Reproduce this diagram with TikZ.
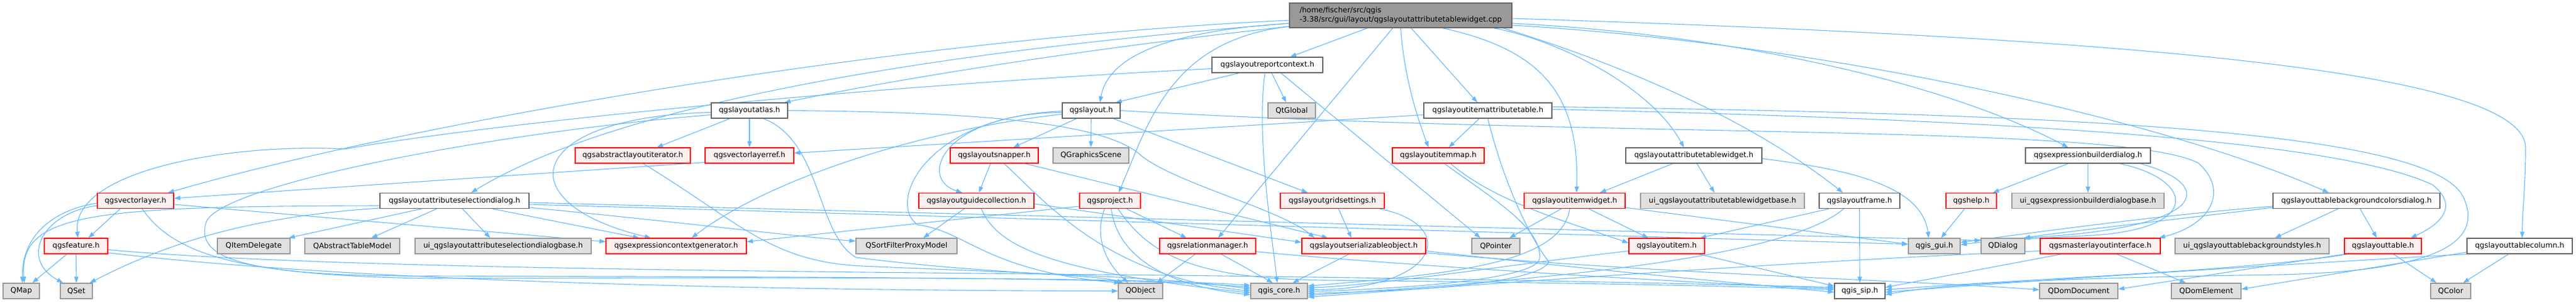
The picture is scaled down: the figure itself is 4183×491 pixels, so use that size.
\documentclass[tikz,border=0pt]{standalone}
\usepackage{fontspec}
\setmainfont{DejaVu Sans}
\usetikzlibrary{arrows.meta}
\definecolor{edgec}{HTML}{63B8FF}
\definecolor{redb}{HTML}{FF0000}
\definecolor{redf}{HTML}{FFF0F0}
\definecolor{grayf}{HTML}{E0E0E0}
\definecolor{grayb}{HTML}{999999}
\definecolor{darkb}{HTML}{666666}
\definecolor{topf}{HTML}{999999}
\newcommand{\ndfnt}{\fontsize{12pt}{15pt}\selectfont}
\pgfdeclarelayer{back}
\pgfdeclarelayer{bg}
\pgfsetlayers{back,bg,main}
\begin{document}
\begin{tikzpicture}[x=1pt,y=-1pt,
 box/.style={rectangle, inner sep=0pt, minimum height=25pt, line width=1.3pt, font=\ndfnt},
 wnode/.style={box, draw=darkb, fill=white},
 rnode/.style={box, draw=redb, fill=redf},
 gnode/.style={box, draw=grayb, fill=grayf},
 tnode/.style={box, draw=darkb, fill=topf},
 mw/.style={minimum width=#1},
 conn/.style={draw=edgec, line width=1.1pt, -{Triangle[length=10pt,width=7pt]}}]
\useasboundingbox (0,0) rectangle (4183,491);
\begin{pgfonlayer}{back}
\fill[white] (0,0) rectangle (4183,491);
\end{pgfonlayer}
% ---------- nodes ----------
\node[tnode, mw=361pt, minimum height=40pt, align=left] (top) at (2274.5,25) {/home/fischer/src/qgis\\-3.38/src/gui/layout/qgslayoutattributetablewidget.cpp};
\node[wnode, mw=180pt] (rc) at (2058,105.5) {qgslayoutreportcontext.h};
\node[wnode, mw=124pt] (atlas) at (1217,179.5) {qgslayoutatlas.h};
\node[wnode, mw=94pt] (layout) at (1772,179.5) {qgslayout.h};
\node[gnode, mw=77pt] (qtglobal) at (2097.5,179.5) {QtGlobal};
\node[wnode, mw=208pt] (iat) at (2416,179.5) {qgslayoutitemattributetable.h};
\node[rnode, mw=187pt] (ali) at (1027.5,252.5) {qgsabstractlayoutiterator.h};
\node[rnode, mw=144pt] (vlr) at (1217,252.5) {qgsvectorlayerref.h};
\node[rnode, mw=143pt] (snap) at (1614.5,252.5) {qgslayoutsnapper.h};
\node[gnode, mw=123pt] (gscene) at (1771.5,252.5) {QGraphicsScene};
\node[rnode, mw=149pt] (imap) at (2335.5,252.5) {qgslayoutitemmap.h};
\node[wnode, mw=221pt] (atw) at (2750.5,252.5) {qgslayoutattributetablewidget.h};
\node[wnode, mw=203pt] (ebd) at (3390.5,252.5) {qgsexpressionbuilderdialog.h};
\node[rnode, mw=124pt] (vl) at (220,326) {qgsvectorlayer.h};
\node[wnode, mw=242pt] (asd) at (738,326) {qgslayoutattributeselectiondialog.h};
\node[rnode, mw=187pt] (guide) at (1585.5,326) {qgslayoutguidecollection.h};
\node[rnode, mw=99pt] (proj) at (1802.5,326) {qgsproject.h};
\node[rnode, mw=169pt] (grid) at (2163.5,326) {qgslayoutgridsettings.h};
\node[rnode, mw=164pt] (iw) at (2557,326) {qgslayoutitemwidget.h};
\node[gnode, mw=266pt] (uiatw) at (2797,326) {ui\_qgslayoutattributetablewidgetbase.h};
\node[wnode, mw=131pt] (frame) at (3019.5,326) {qgslayoutframe.h};
\node[rnode, mw=82pt] (help) at (3201,326) {qgshelp.h};
\node[gnode, mw=247pt] (uiebd) at (3390.5,326) {ui\_qgsexpressionbuilderdialogbase.h};
\node[wnode, mw=271pt] (tbcd) at (3826.5,326) {qgslayouttablebackgroundcolorsdialog.h};
\node[rnode, mw=103pt] (feat) at (123.5,399.5) {qgsfeature.h};
\node[gnode, mw=118pt] (qid) at (412,399.5) {QItemDelegate};
\node[gnode, mw=154pt] (qatm) at (572,399.5) {QAbstractTableModel};
\node[gnode, mw=286pt] (uiasd) at (817,399.5) {ui\_qgslayoutattributeselectiondialogbase.h};
\node[rnode, mw=228pt] (ecg) at (1098,399.5) {qgsexpressioncontextgenerator.h};
\node[gnode, mw=164pt] (qsfpm) at (1472,399.5) {QSortFilterProxyModel};
\node[rnode, mw=156pt] (relm) at (1961,399.5) {qgsrelationmanager.h};
\node[rnode, mw=201pt] (ser) at (2214.5,399.5) {qgslayoutserializableobject.h};
\node[gnode, mw=78pt] (qptr) at (2429,399.5) {QPointer};
\node[rnode, mw=123pt] (item) at (2706.5,399.5) {qgslayoutitem.h};
\node[gnode, mw=84pt] (gui) at (3141,399.5) {qgis\_gui.h};
\node[gnode, mw=71pt] (qdlg) at (3252.5,399.5) {QDialog};
\node[rnode, mw=195pt] (mli) at (3410.5,399.5) {qgsmasterlayoutinterface.h};
\node[gnode, mw=250pt] (uitbs) at (3657,399.5) {ui\_qgslayouttablebackgroundstyles.h};
\node[rnode, mw=125pt] (table) at (3869.5,399.5) {qgslayouttable.h};
\node[wnode, mw=171pt] (tcol) at (4091.5,399.5) {qgslayouttablecolumn.h};
\node[gnode, mw=59pt] (qmap) at (34.5,472.5) {QMap};
\node[gnode, mw=52pt] (qset) at (124,472.5) {QSet};
\node[gnode, mw=72pt] (qobj) at (1852,472.5) {QObject};
\node[gnode, mw=92pt] (core) at (2077,472.5) {qgis\_core.h};
\node[wnode, mw=82pt] (sip) at (3020,472.5) {qgis\_sip.h};
\node[gnode, mw=127pt] (qdd) at (3375.5,472.5) {QDomDocument};
\node[gnode, mw=113pt] (qde) at (3582.5,472.5) {QDomElement};
\node[gnode, mw=65pt] (qcolor) at (3979.5,472.5) {QColor};
% ---------- edges ----------
\begin{pgfonlayer}{bg}
% top
\draw[conn] ([xshift=-54pt]top.south) -- ([xshift=37pt]rc.north);
\draw[conn] ([yshift=-13pt]top.west) .. controls (1900,50) and (1800,90) .. ([xshift=14pt]layout.north);
\draw[conn] ([yshift=-18pt]top.west) .. controls (1900,65) and (1865,200) .. ([xshift=14pt]proj.north);
\draw[conn] ([xshift=-13pt]top.south) -- ([xshift=17pt]relm.north);
\draw[conn] (top.south) .. controls (2280,130) and (2305,200) .. ([xshift=-16pt]imap.north);
\draw[conn] ([xshift=17pt]top.south) -- ([xshift=-17pt]iat.north);
\draw[conn] ([xshift=68pt]top.south) .. controls (2500,80) and (2565,150) .. ([xshift=3pt]iw.north);
\draw[conn] ([xshift=151pt]top.south) .. controls (2530,65) and (2680,140) .. ([xshift=-16pt]atw.north);
\draw[conn] ([xshift=-15pt]top.south east) .. controls (2650,110) and (2850,200) .. ([xshift=-27pt]frame.north);
\draw[conn] ([yshift=-13pt]top.east) .. controls (2800,55) and (3150,130) .. ([xshift=-32pt]ebd.north);
\draw[conn] ([yshift=-16pt]top.east) .. controls (2950,70) and (3500,190) .. ([xshift=-45pt]tbcd.north);
\draw[conn] ([yshift=-5pt]top.east) .. controls (3400,60) and (4101,110) .. (4101,240) .. controls (4101,300) and (4096,340) .. ([xshift=4pt]tcol.north);
\draw[conn] ([yshift=-18pt]top.west) .. controls (1800,75) and (1500,120) .. ([xshift=-6pt]atlas.north east);
\draw[conn] ([yshift=-8pt]top.west) .. controls (1500,60) and (700,190) .. ([xshift=-10pt]vl.north east);
\draw[conn] ([yshift=-13pt]top.west) .. controls (1500,85) and (1000,170) .. ([xshift=27pt]asd.north);
% rc
\draw[conn] ([xshift=-46pt]rc.south) -- ([xshift=-8pt]layout.north east);
\draw[conn] ([xshift=7pt]rc.south) -- ([xshift=-9pt]qtglobal.north);
\draw[conn] ([xshift=22pt]rc.south) -- ([xshift=-25pt]qptr.north);
\draw[conn] ([xshift=-4pt]rc.south) .. controls (2040,220) and (2065,380) .. ([xshift=-3pt]core.north);
\draw[conn] ([yshift=-6pt]rc.west) .. controls (1400,140) and (800,200) .. (560,242) .. controls (380,232) and (115,275) .. ([xshift=3pt]feat.north);
% atlas
\draw[conn] ([xshift=-32pt]atlas.south) -- ([xshift=39pt]ali.north);
\draw[conn] (atlas.south) -- (vlr.north);
\draw[conn] ([xshift=23pt]atlas.south) .. controls (1335,230) and (1325,380) .. (1390,418) .. controls (1600,445) and (1780,445) .. ([xshift=-28pt]qobj.north);
\draw[conn] (atlas.east) .. controls (1600,182) and (1790,200) .. (1850,250) .. controls (1900,295) and (2080,340) .. ([xshift=-80pt]ser.north);
\draw[conn] ([yshift=-3pt]atlas.west) .. controls (850,190) and (820,330) .. ([xshift=-41pt]ecg.north);
\draw[conn] ([yshift=-7pt]atlas.west) .. controls (800,215) and (360,300) .. (335,360) .. controls (320,410) and (360,450) .. (700,448) .. controls (1300,450) and (1850,450) .. ([yshift=6pt]core.west);
% ali, vlr
\draw[conn] ([xshift=17pt]ali.south) .. controls (1200,360) and (1250,425) .. (1400,432) .. controls (1700,445) and (1900,450) .. ([yshift=3pt]core.west);
\draw[conn] ([yshift=2pt]vlr.south west) -- ([yshift=4pt]vl.east);
% layout
\draw[conn] ([xshift=-24pt]layout.south) -- ([xshift=31pt]snap.north);
\draw[conn] (layout.south) -- (gscene.north);
\draw[conn] ([yshift=-3pt]layout.west) .. controls (1530,185) and (1490,290) .. ([xshift=-23pt]guide.north);
\draw[conn] ([yshift=-6pt]layout.west) .. controls (1500,210) and (1250,290) .. ([xshift=25pt]ecg.north);
\draw[conn] ([yshift=-1pt]layout.west) .. controls (1500,190) and (1440,330) .. (1490,365) .. controls (1570,375) and (1600,440) .. ([xshift=-33pt]qobj.north);
\draw[conn] ([xshift=36pt]layout.south) -- ([xshift=-40pt]grid.north);
\draw[conn] (layout.east) .. controls (2600,225) and (3450,200) .. (3570,265) .. controls (3620,310) and (3590,365) .. ([xshift=-3pt]mli.north east);
% snap
\draw[conn] ([xshift=-6pt]snap.south) -- ([xshift=4pt]guide.north);
\draw[conn] ([xshift=16pt]snap.south) .. controls (1700,330) and (1800,450) .. (core.west);
\draw[conn] ([xshift=50pt]snap.south) -- ([xshift=-58pt]ser.north);
% guide
\draw[conn] ([xshift=-20pt]guide.south) -- ([xshift=27pt]qsfpm.north);
\draw[conn] ([xshift=8pt]guide.south) .. controls (1620,400) and (1700,440) .. ([yshift=-3pt]core.west);
\draw[conn] ([yshift=-5pt]guide.east) -- ([yshift=6pt]ser.west);
% proj
\draw[conn] ([yshift=-9pt]proj.west) -- ([yshift=7pt]ecg.east);
\draw[conn] ([xshift=27pt]proj.south) -- ([xshift=-34pt]relm.north);
\draw[conn] ([xshift=-9pt]proj.south) .. controls (1775,390) and (1800,430) .. ([xshift=-20pt]qobj.north);
\draw[conn] ([xshift=2pt]proj.south) .. controls (1815,420) and (1900,465) .. ([yshift=-6pt]core.west);
\draw[conn] ([xshift=13pt]proj.south) .. controls (1870,420) and (1950,452) .. (2150,455) .. controls (2500,458) and (2850,465) .. ([yshift=2pt]sip.west);
% relm
\draw[conn] ([xshift=-20pt]relm.south) -- ([xshift=26pt]qobj.north);
\draw[conn] ([xshift=22pt]relm.south) -- ([xshift=-10pt]core.north);
\draw[conn] ([yshift=-9pt]relm.east) .. controls (2200,425) and (2700,458) .. ([yshift=4pt]sip.west);
% grid
\draw[conn] ([xshift=10pt]grid.south) -- ([xshift=-20pt]ser.north);
\draw[conn] ([xshift=77pt]grid.south) .. controls (2370,365) and (2340,470) .. ([yshift=2pt]core.east);
% ser
\draw[conn] ([xshift=-24pt]ser.south) -- ([xshift=22pt]core.north);
\draw[conn] ([yshift=-8pt]ser.east) .. controls (2600,440) and (2850,462) .. ([yshift=-2pt]sip.west);
\draw[conn] ([yshift=-11pt]ser.east) .. controls (2700,445) and (3100,455) .. ([yshift=2pt]qdd.west);
% item
\draw[conn] ([yshift=-8pt]item.west) .. controls (2450,430) and (2250,462) .. ([yshift=5pt]core.east);
\draw[conn] ([xshift=-10pt]item.south east) -- ([yshift=8pt]sip.west);
% imap
\draw[conn] ([xshift=10pt]imap.south) .. controls (2420,320) and (2505,370) .. (2500,420) .. controls (2495,452) and (2300,468) .. ([yshift=-1pt]core.east);
\draw[conn] ([xshift=20pt]imap.south) .. controls (2430,330) and (2560,365) .. ([yshift=5pt]item.west);
% iat
\draw[conn] ([xshift=-14pt]iat.south) -- ([xshift=17pt]imap.north);
\draw[conn] ([yshift=-7pt]iat.west) -- ([yshift=4pt]vlr.east);
\draw[conn] (iat.south) .. controls (2440,290) and (2480,380) .. (2515,425) .. controls (2500,460) and (2300,472) .. ([yshift=-4pt]core.east);
\draw[conn] ([yshift=2pt]iat.east) .. controls (3300,195) and (3800,230) .. (3950,300) .. controls (4000,340) and (3950,370) .. ([xshift=45pt]table.north);
\draw[conn] ([yshift=6pt]iat.east) .. controls (3400,185) and (3950,215) .. (4000,320) .. controls (4030,385) and (3980,440) .. (3700,446) .. controls (3300,452) and (3150,462) .. ([yshift=-6pt]sip.east);
% frame
\draw[conn] ([xshift=-50pt]frame.south) -- ([xshift=-8pt]item.north east);
\draw[conn] ([xshift=-26pt]frame.south) .. controls (2900,420) and (2500,455) .. ([yshift=-7pt]core.east);
\draw[conn] (frame.south) -- (sip.north);
% iw
\draw[conn] ([xshift=-22pt]iw.south) -- ([xshift=22pt]qptr.north);
\draw[conn] ([xshift=-8pt]iw.south) .. controls (2535,430) and (2350,445) .. ([yshift=8pt]core.east);
\draw[conn] ([xshift=23pt]iw.south) -- ([xshift=-30pt]item.north);
\draw[conn] ([yshift=2pt]iw.south east) -- ([yshift=3pt]gui.west);
% atw
\draw[conn] ([xshift=-34pt]atw.south) -- ([xshift=41pt]iw.north);
\draw[conn] ([xshift=5pt]atw.south) -- ([xshift=-13pt]uiatw.north);
\draw[conn] ([yshift=-5pt]atw.east) .. controls (3000,275) and (3120,300) .. ([xshift=-9pt]gui.north);
% help, ebd
\draw[conn] ([xshift=-11pt]help.south) -- ([xshift=11pt]gui.north);
\draw[conn] ([xshift=-32pt]ebd.south) -- ([xshift=35pt]help.north);
\draw[conn] (ebd.south) -- (uiebd.north);
\draw[conn] ([xshift=51pt]ebd.south) .. controls (3560,290) and (3580,370) .. (3400,382) .. controls (3290,388) and (3220,392) .. ([yshift=2pt]gui.east);
\draw[conn] ([xshift=85pt]ebd.south) .. controls (3600,300) and (3590,370) .. ([xshift=-3pt]qdlg.north east);
% tbcd
\draw[conn] ([xshift=-30pt]tbcd.south) -- ([xshift=37pt]uitbs.north);
\draw[conn] ([xshift=6pt]tbcd.south) -- ([xshift=-10pt]table.north);
\draw[conn] ([yshift=-9pt]tbcd.west) .. controls (3500,350) and (3300,378) .. ([yshift=6pt]gui.east);
\draw[conn] ([yshift=-11pt]tbcd.west) .. controls (3500,360) and (3340,378) .. ([xshift=-2pt]qdlg.north east);
% mli
\draw[conn] ([xshift=-63pt]mli.south) -- ([yshift=6pt]sip.east);
\draw[conn] ([xshift=27pt]mli.south) -- ([xshift=-33pt]qde.north);
\draw[conn] ([yshift=-8pt]mli.west) .. controls (2900,425) and (2400,462) .. ([yshift=-10pt]core.east);
% table
\draw[conn] ([xshift=17pt]table.south) -- ([xshift=-23pt]qcolor.north);
\draw[conn] (table.south west) -- ([yshift=3pt]qdd.east);
\draw[conn] ([xshift=6pt]table.south west) .. controls (3650,440) and (3300,452) .. ([yshift=2pt]sip.east);
% tcol
\draw[conn] ([xshift=-18pt]tcol.south) -- ([xshift=20pt]qcolor.north);
\draw[conn] ([yshift=-10pt]tcol.west) -- ([yshift=3pt]qde.east);
\draw[conn] (tcol.south west) .. controls (3700,430) and (3300,455) .. ([yshift=-2pt]sip.east);
% vl
\draw[conn] ([xshift=-25pt]vl.south) -- ([xshift=20pt]feat.north);
\draw[conn] ([yshift=-4pt]vl.west) .. controls (90,340) and (35,380) .. ([xshift=2pt]qmap.north);
\draw[conn] ([yshift=-8pt]vl.west) .. controls (70,345) and (30,420) .. ([xshift=5pt]qset.north west);
\draw[conn] ([yshift=-6pt]vl.east) -- ([yshift=7pt]ecg.west);
\draw[conn] ([xshift=11pt]vl.south) .. controls (280,410) and (380,448) .. (700,452) .. controls (1300,450) and (1850,450) .. ([yshift=9pt]core.west);
% feat
\draw[conn] ([xshift=-15pt]feat.south) -- ([xshift=18pt]qmap.north);
\draw[conn] (feat.south) -- (qset.north);
\draw[conn] ([yshift=-6pt]feat.east) .. controls (500,435) and (1200,440) .. (1800,446) .. controls (2400,452) and (2800,462) .. ([yshift=6pt]sip.west);
\draw[conn] ([yshift=-11pt]feat.east) .. controls (600,460) and (1300,472) .. (qobj.west);
% asd
\draw[conn] ([yshift=-8pt]asd.west) .. controls (150,335) and (30,345) .. ([xshift=5pt]qmap.north);
\draw[conn] ([yshift=-12pt]asd.west) .. controls (430,350) and (290,385) .. ([xshift=-5pt]qset.north east);
\draw[conn] ([xshift=-54pt]asd.south) -- ([xshift=-3pt]qid.north east);
\draw[conn] ([xshift=-29pt]asd.south) -- ([xshift=31pt]qatm.north);
\draw[conn] ([xshift=13pt]asd.south) -- ([xshift=-21pt]uiasd.north);
\draw[conn] ([xshift=62pt]asd.south) -- ([xshift=-60pt]ecg.north);
\draw[conn] ([yshift=-11pt]asd.east) .. controls (1100,360) and (1300,385) .. ([yshift=8pt]qsfpm.west);
\draw[conn] ([yshift=-3pt]asd.east) -- ([yshift=9pt]qdlg.west);
\draw[conn] ([yshift=-6pt]asd.east) -- ([yshift=3pt]gui.west);
\end{pgfonlayer}
\end{tikzpicture}
\end{document}
